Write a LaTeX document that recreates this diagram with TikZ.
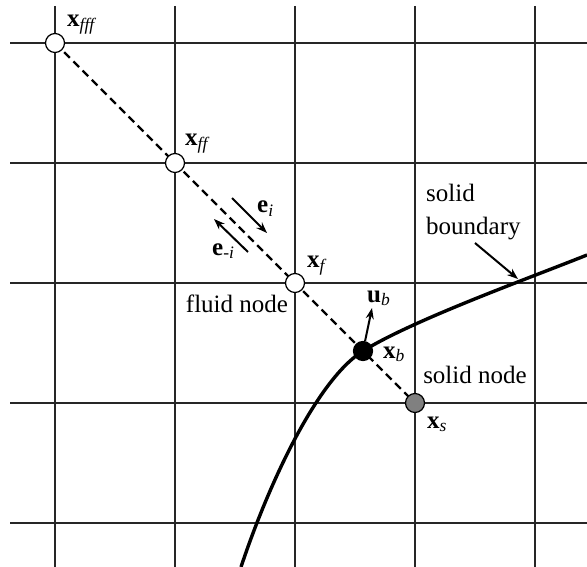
\documentclass[tikz,border=0pt]{standalone}
\usepackage{fontspec}
\setmainfont{Liberation Serif}
\usetikzlibrary{arrows.meta}
\newcommand\myvec[2]{\textbf{#1}\textsubscript{\itshape #2}}
\begin{document}
\begin{tikzpicture}[x=1pt,y=-1pt,
  grid/.style={line width=2.2pt,draw=black!85},
  pt/.style={circle,draw=black,line width=1.2pt,minimum size=19pt,inner sep=0pt},
  lbl/.style={font=\fontsize{25}{32}\selectfont,inner sep=0pt},
  arr/.style={line width=2pt,-{Stealth[length=11pt,width=8pt]}}]
\useasboundingbox (0,0) rectangle (587,567);
\foreach \x in {55,175,295,415,535} \draw[grid] (\x,6) -- (\x,567);
\foreach \y in {43,163,283,403,523} \draw[grid] (10,\y) -- (587,\y);
% boundary curve
\draw[line width=3.4pt] (241,567) .. controls (270,480) and (318,379) .. (363,351)
  .. controls (413,320) and (527,279) .. (587,255);
\draw[line width=2.2pt,dash pattern=on 8pt off 5pt] (55,43) -- (415,403);
\node[pt,fill=white] (fff) at (55,43) {};
\node[pt,fill=white] (ff) at (175,163) {};
\node[pt,fill=white] (f) at (295,283) {};
\node[pt,fill=black] (b) at (363,351) {};
\node[pt,fill=black!50] (s) at (415,403) {};
\node[lbl,anchor=base west] (lfff) at (67,27) {\myvec{x}{fff}};
\node[lbl,anchor=base west] (lff) at (185,146) {\myvec{x}{ff}};
\node[lbl,anchor=base west] (lf) at (307,268) {\myvec{x}{f}};
\node[lbl,anchor=base west] (lb) at (383,358) {\myvec{x}{b}};
\node[lbl,anchor=base west] (ls) at (427,428) {\myvec{x}{s}};
\node[lbl,anchor=base] (fluid) at (237,312) {fluid node};
\node[lbl,anchor=base] (solid) at (475,383) {solid node};
\node[lbl,anchor=base west] (sb1) at (426,202) {solid};
\node[lbl,anchor=base west] (sb2) at (426,234) {boundary};
\coordinate (ubtip) at (372,308);
\draw[arr] (b) -- (ubtip);
\node[lbl,anchor=base west] (lub) at (367,302) {\myvec{u}{b}};
\coordinate (sbs) at (475,243);
\coordinate (sbe) at (518,279);
\draw[arr] (sbs) -- (sbe);
\coordinate (ei1) at (232,198);
\coordinate (ei2) at (267,233);
\draw[arr] (ei1) -- (ei2);
\coordinate (emi1) at (248,252);
\coordinate (emi2) at (214,219);
\draw[arr] (emi1) -- (emi2);
\node[lbl,anchor=base west] (lei) at (257,213) {\myvec{e}{i}};
\node[lbl,anchor=base west] (lemi) at (212,255) {\myvec{e}{-i}};
\end{tikzpicture}
\end{document}
